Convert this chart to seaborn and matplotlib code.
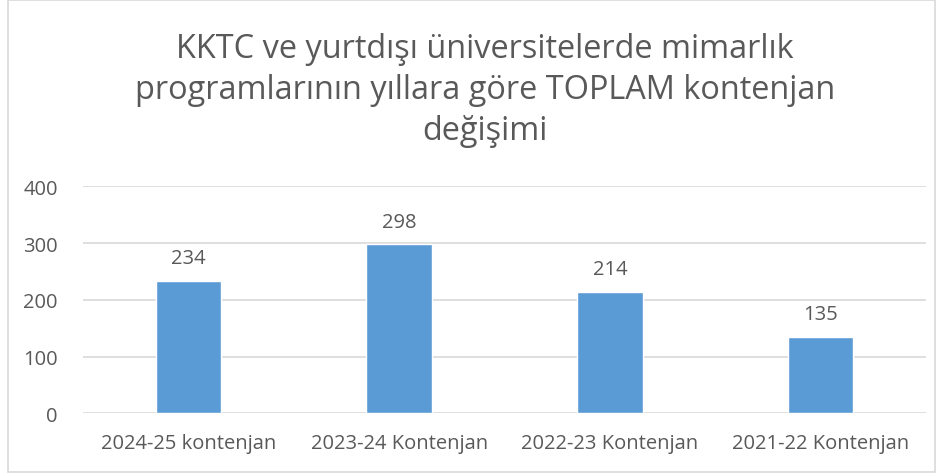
import matplotlib
matplotlib.use("Agg")
import matplotlib.pyplot as plt
import seaborn as sns
import pandas as pd
from matplotlib.patches import Rectangle

categories = ["2024-25 kontenjan", "2023-24 Kontenjan", "2022-23 Kontenjan", "2021-22 Kontenjan"]
values = [234, 298, 214, 135]
title = "KKTC ve yurtdışı üniversitelerde mimarlık\nprogramlarının yıllara göre TOPLAM kontenjan\ndeğişimi"

df = pd.DataFrame({"kategori": categories, "kontenjan": values})

sns.set_theme(style="white")
plt.rcParams["font.family"] = ["Open Sans", "DejaVu Sans"]
text_col = "#595959"

fig = plt.figure(figsize=(9.43, 4.77), dpi=100)
ax = fig.add_axes([0.088, 0.1314, 0.894, 0.4759])

sns.barplot(data=df, x="kategori", y="kontenjan", color="#5B9BD5",
            width=0.31, saturation=1, ax=ax, zorder=3)

ax.set_ylim(0, 400)
ax.set_yticks([0, 100, 200, 300, 400])
ax.yaxis.grid(True, color="#D9D9D9", linewidth=1.2, zorder=0)
ax.set_axisbelow(True)
for s in ax.spines.values():
    s.set_visible(False)
ax.set_xlabel("")
ax.set_ylabel("")
ax.tick_params(axis="both", length=0, labelsize=14.5, labelcolor=text_col)
ax.tick_params(axis="x", pad=14)
ax.tick_params(axis="y", pad=18)

for i, v in enumerate(values):
    ax.annotate(str(v), (i, v), xytext=(0, 9), textcoords="offset points",
                ha="center", va="bottom", fontsize=14.5, color=text_col)

fig.text(0.514, 0.811, title, ha="center", va="center", fontsize=23.4,
         color=text_col, linespacing=1.32)

fig.patches.append(Rectangle((0.008, 0.008), 0.983, 0.99, transform=fig.transFigure,
                             fill=False, edgecolor="#D9D9D9", linewidth=1.2))

fig.savefig("out.png", dpi=100)
